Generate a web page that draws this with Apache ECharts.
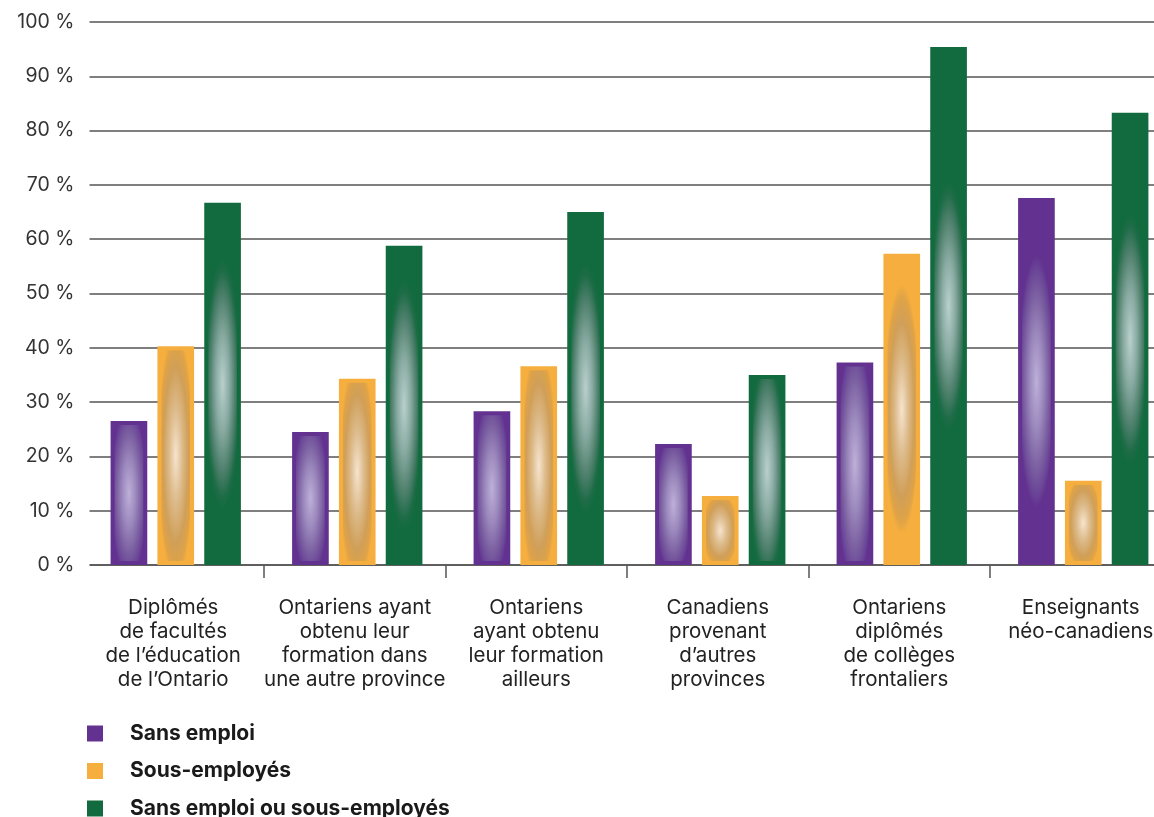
<!DOCTYPE html>
<html>
<head>
<meta charset="utf-8">
<script src="https://cdn.jsdelivr.net/npm/echarts@6/dist/echarts.min.js"></script>
<style>
  html, body { margin: 0; padding: 0; background: #ffffff; }
  #chart { width: 1154px; height: 817px; }
</style>
</head>
<body>
<div id="chart"></div>
<script>
// Catégories de diplômés / enseignants
const categories = [
  'Diplômés\nde facultés\nde l’éducation\nde l’Ontario',
  'Ontariens ayant\nobtenu leur\nformation dans\nune autre province',
  'Ontariens\nayant obtenu\nleur formation\nailleurs',
  'Canadiens\nprovenant\nd’autres\nprovinces',
  'Ontariens\ndiplômés\nde collèges\nfrontaliers',
  'Enseignants\nnéo-canadiens'
];

// Pourcentages par série
const sansEmploi = [26.5, 24.5, 28.3, 22.3, 37.3, 67.6];
const sousEmployes = [40.3, 34.3, 36.6, 12.7, 57.3, 15.5];
const sansOuSous = [66.7, 58.8, 65.0, 35.0, 95.4, 83.3];

const seriesNames = ['Sans emploi', 'Sous-employés', 'Sans emploi ou sous-employés'];
const yTicks = [0, 10, 20, 30, 40, 50, 60, 70, 80, 90, 100];

// Couleur de base + halo elliptique au centre de chaque barre
const palettes = [
  { base: '#633290', stops: ['#beb0d9', '#9c89bd', '#7b5fa1', '#6a4597', '#633290'] },
  { base: '#f6af3e', stops: ['#f6e4ce', '#dcba8a', '#d09f58', '#e0a346', '#f6af3e'] },
  { base: '#126b3e', stops: ['#b9d0cd', '#88aaa1', '#4e806c', '#1f6c48', '#126b3e'] }
];
const stopOffsets = [0, 0.38, 0.7, 0.9, 1];

function makeRenderItem(idx) {
  const pal = palettes[idx];
  return function (params, api) {
    const cat = api.value(0);
    const val = api.value(1);
    const base = api.coord([cat, 0]);
    const top = api.coord([cat, val]);
    const band = api.size([1, 0])[0];
    const bw = band * 0.202;
    const gap = band * 0.056;
    const cx = base[0] + (idx - 1) * (bw + gap) + 2.5;
    const x = cx - bw / 2;
    const y = top[1];
    const h = base[1] - top[1];
    const inset = 4;
    const iw = bw - inset * 2;
    const ih = Math.max(h - inset * 2, 1);
    const cy = y + h / 2;
    const rx = (iw / 2) / 0.8;
    const ry = Math.min((ih / 2) / 0.8, 125);
    const s = ry / rx;
    return {
      type: 'group',
      children: [
        {
          type: 'rect',
          shape: { x: x, y: y, width: bw, height: h },
          style: { fill: pal.base }
        },
        {
          type: 'rect',
          originX: cx,
          originY: cy,
          scaleY: s,
          shape: { x: x + inset, y: cy - (ih / 2) / s, width: iw, height: ih / s },
          style: {
            fill: {
              type: 'radial', x: cx, y: cy, r: rx, global: true,
              colorStops: pal.stops.map((c, i) => ({ offset: stopOffsets[i], color: c }))
            }
          }
        }
      ]
    };
  };
}

const seriesData = [sansEmploi, sousEmployes, sansOuSous];
const fontFamily = 'Inter, "Liberation Sans", Arial, sans-serif';

const chart = echarts.init(document.getElementById('chart'), null, { renderer: 'canvas' });
chart.setOption({
  animation: false,
  backgroundColor: '#ffffff',
  grid: {
    left: 82.5, top: 22, width: 1089, height: 543,
    containLabel: false,
    outerBoundsMode: 'none'
  },
  legend: {
    orient: 'vertical',
    left: 87,
    top: 723,
    height: 110,
    padding: 0,
    itemWidth: 16,
    itemHeight: 16,
    itemGap: 16.5,
    icon: 'rect',
    data: seriesNames,
    textStyle: {
      fontFamily: fontFamily,
      fontSize: 21,
      fontWeight: 'bold',
      color: '#1a1a1a',
      lineHeight: 20,
      padding: [0, 0, 0, 22]
    }
  },
  xAxis: {
    type: 'category',
    data: categories,
    axisLine: { show: true, lineStyle: { color: '#555', width: 1.5 } },
    axisTick: { show: true, interval: 0, length: 13, lineStyle: { color: '#555', width: 1.5 } },
    axisLabel: {
      interval: 0,
      margin: 31,
      fontFamily: fontFamily,
      fontSize: 20.5,
      lineHeight: 24,
      color: '#222'
    }
  },
  yAxis: {
    type: 'value',
    min: yTicks[0],
    max: yTicks[yTicks.length - 1],
    interval: yTicks[1] - yTicks[0],
    axisLine: { show: false },
    axisTick: { show: false },
    splitLine: { show: true, lineStyle: { color: '#555', width: 1.5 } },
    axisLabel: {
      formatter: '{value} %',
      margin: 8,
      fontFamily: fontFamily,
      fontSize: 19.5,
      color: '#333'
    }
  },
  graphic: [
    {
      type: 'rect',
      left: 78, top: 14,
      shape: { width: 11.5, height: 570 },
      style: { fill: '#ffffff' },
      z: 100
    }
  ],
  series: seriesData.map((arr, i) => ({
    name: seriesNames[i],
    type: 'custom',
    renderItem: makeRenderItem(i),
    itemStyle: { color: palettes[i].base },
    encode: { x: 0, y: 1 },
    data: arr.map((v, j) => [j, v]),
    clip: false,
    z: 5
  }))
});
</script>
</body>
</html>
